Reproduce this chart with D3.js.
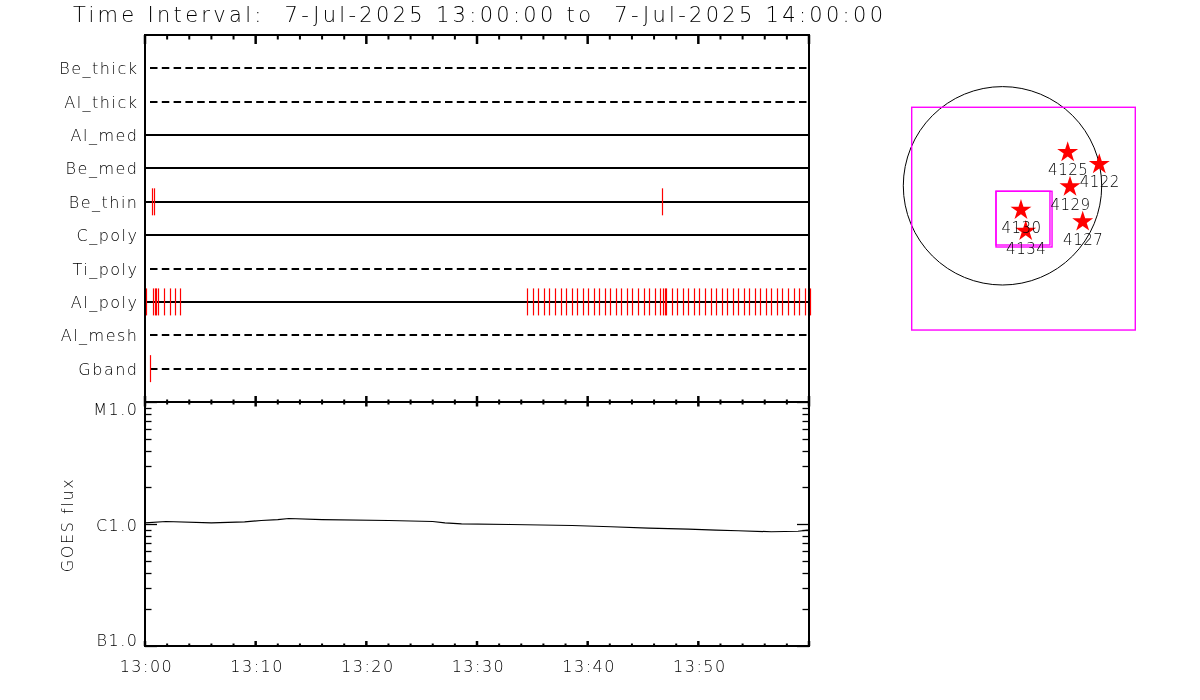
<!DOCTYPE html>
<html>
<head>
<meta charset="utf-8">
<script src="https://cdn.jsdelivr.net/npm/d3@7"></script>
<style>
  body { margin: 0; background: #fff; }
  svg { display: block; will-change: transform; }
  text { font-family: "DejaVu Sans", "Liberation Sans", sans-serif; font-weight: 200; fill: #000; }
</style>
</head>
<body>
<div id="chart"></div>
<script>
// filter rows, top to bottom
var rowNames = ["Be_thick", "Al_thick", "Al_med", "Be_med", "Be_thin", "C_poly", "Ti_poly", "Al_poly", "Al_mesh", "Gband"];
var dashedRows = ["Be_thick", "Al_thick", "Ti_poly", "Al_mesh", "Gband"];

// exposure times, minutes after 13:00
var beThinTimes = [0.66, 0.84, 46.72];
var gbandTimes = [0.48];
var alPolyTimes = [0.12, 0.75, 0.9, 1.02, 1.2, 1.69, 2.23, 2.74, 3.19,
    34.55, 35.05, 35.55, 36.05, 36.55, 37.05, 37.55, 38.05, 38.55, 39.05, 39.55,
    40.05, 40.55, 41.05, 41.55, 42.05, 42.55, 43.05, 43.55, 44.05, 44.55, 45.05,
    45.55, 46.05, 46.55, 46.8, 46.95, 47.1, 47.6, 48.1, 48.6, 49.1, 49.6, 50.1,
    50.6, 51.1, 51.6, 52.1, 52.6, 53.1, 53.6, 54.1, 54.6, 55.1, 55.6, 56.1, 56.6,
    57.1, 57.6, 58.1, 58.6, 59.1, 59.6, 60.05];

// GOES flux (W/m2)
var goesMinutes = [0, 1.9, 6.0, 9.0, 10.5, 12.0, 13.0, 16.0, 22.0, 26.0, 27.1, 28.6, 33.0, 38.6, 42.1, 45.5, 49.1, 51.6, 53.6, 56.6, 59.0, 59.9];
var goesFlux = [1.023e-6, 1.048e-6, 1.023e-6, 1.04e-6, 1.068e-6, 1.088e-6, 1.109e-6, 1.088e-6, 1.068e-6, 1.048e-6, 1.023e-6, 1.004e-6,
    0.991e-6, 0.972e-6, 0.949e-6, 0.924e-6, 0.907e-6, 0.89e-6, 0.88e-6, 0.864e-6, 0.872e-6, 0.89e-6];
var goesTickValues = [1e-7, 1e-6, 1e-5];
var goesTickLabels = ["B1.0", "C1.0", "M1.0"];

// active regions, arcsec from disk centre
var arNumbers = ["4125", "4122", "4129", "4130", "4134", "4127"];
var arX = [621, 922, 643, 176, 221, 764];
var arY = [319, 205, -9, -231, -431, -342];
var solarRadius = 945;
// pointing boxes [x0, x1, y0, y1] arcsec
var fovBoxes = [[-865, 1265, -1374, 748], [-62, 452, -564, -52], [-62, 472, -583, -52]];

var t0 = new Date(Date.UTC(2025, 6, 7, 13, 0, 0));
var t1 = new Date(Date.UTC(2025, 6, 7, 14, 0, 0));
function atMin(m) { return new Date(t0.getTime() + m * 60000); }

var width = 1200, height = 700;
var plotLeft = 145, plotRight = 809, plotTop = 35, plotMid = 402, plotBottom = 646;

var svg = d3.select("#chart").append("svg")
    .attr("width", width)
    .attr("height", height);

svg.append("rect")
    .attr("width", width)
    .attr("height", height)
    .attr("fill", "#fff");

svg.append("text")
    .attr("x", 73)
    .attr("y", 22)
    .attr("font-size", 21)
    .attr("textLength", 810)
    .attr("lengthAdjust", "spacing")
    .style("white-space", "pre")
    .text("Time Interval:  7-Jul-2025 13:00:00 to  7-Jul-2025 14:00:00");

var x = d3.scaleUtc().domain([t0, t1]).range([plotLeft, plotRight]);
var yRow = d3.scalePoint().domain(rowNames).range([plotTop, plotMid]).padding(1);
var y = d3.scaleLog().domain([1e-7, 1e-5]).range([plotBottom, plotMid]);

var majorTicks = x.ticks(d3.utcMinute.every(10));
var minorTicks = x.ticks(d3.utcMinute.every(2)).filter(function (d) {
    return d.getUTCMinutes() % 10 !== 0;
});

// ---- filter panel ----
var rows = svg.append("g");
rows.selectAll("line.row")
    .data(rowNames)
    .enter()
    .append("line")
    .attr("class", "row")
    .attr("x1", plotLeft)
    .attr("x2", plotRight)
    .attr("y1", function (d) { return Math.round(yRow(d)); })
    .attr("y2", function (d) { return Math.round(yRow(d)); })
    .attr("stroke", "#000")
    .attr("stroke-width", 2)
    .attr("stroke-dasharray", function (d) {
        return dashedRows.indexOf(d) >= 0 ? "7.5,4.3" : null;
    })
    .attr("stroke-dashoffset", -5);

rows.selectAll("text.rowlabel")
    .data(rowNames)
    .enter()
    .append("text")
    .attr("class", "rowlabel")
    .attr("x", 138.5)
    .attr("y", function (d) { return yRow(d) + 6; })
    .attr("text-anchor", "end")
    .attr("font-size", 16)
    .attr("letter-spacing", 1.5)
    .text(function (d) { return d; });

var exposures = [];
beThinTimes.forEach(function (m) { exposures.push({ row: "Be_thin", t: m }); });
alPolyTimes.forEach(function (m) { exposures.push({ row: "Al_poly", t: m }); });
gbandTimes.forEach(function (m) { exposures.push({ row: "Gband", t: m }); });

rows.selectAll("line.exp")
    .data(exposures)
    .enter()
    .append("line")
    .attr("class", "exp")
    .attr("x1", function (d) { return Math.round(x(atMin(d.t))) + 0.5; })
    .attr("x2", function (d) { return Math.round(x(atMin(d.t))) + 0.5; })
    .attr("y1", function (d) { return yRow(d.row) - 13.5; })
    .attr("y2", function (d) { return yRow(d.row) + 13.5; })
    .attr("stroke", "#ff0000")
    .attr("stroke-width", 1.2);

// ---- GOES panel ----
var line = d3.line()
    .x(function (d, i) { return x(atMin(goesMinutes[i])); })
    .y(function (d) { return y(d); });

svg.append("path")
    .datum(goesFlux)
    .attr("d", line)
    .attr("fill", "none")
    .attr("stroke", "#000")
    .attr("stroke-width", 1.2);

var logTicks = y.ticks();
function isMajor(v) {
    return goesTickValues.some(function (t) { return Math.abs(v / t - 1) < 1e-6; });
}

var yt = svg.append("g");
yt.selectAll("line.yl")
    .data(logTicks)
    .enter()
    .append("line")
    .attr("x1", plotLeft)
    .attr("x2", function (d) { return plotLeft + (isMajor(d) ? 12 : 6.5); })
    .attr("y1", function (d) { return Math.round(y(d)) + 0.5; })
    .attr("y2", function (d) { return Math.round(y(d)) + 0.5; })
    .attr("stroke", "#000")
    .attr("stroke-width", 1.3);
yt.selectAll("line.yr")
    .data(logTicks)
    .enter()
    .append("line")
    .attr("x1", plotRight)
    .attr("x2", function (d) { return plotRight - (isMajor(d) ? 12 : 6.5); })
    .attr("y1", function (d) { return Math.round(y(d)) + 0.5; })
    .attr("y2", function (d) { return Math.round(y(d)) + 0.5; })
    .attr("stroke", "#000")
    .attr("stroke-width", 1.3);

yt.selectAll("text")
    .data(goesTickValues)
    .enter()
    .append("text")
    .attr("x", 138.5)
    .attr("y", function (d, i) { return i === 0 ? y(d) : (i === 2 ? y(d) + 13 : y(d) + 6.5); })
    .attr("text-anchor", "end")
    .attr("font-size", 16)
    .attr("letter-spacing", 1.5)
    .text(function (d, i) { return goesTickLabels[i]; });

svg.append("text")
    .attr("transform", "translate(73,525) rotate(-90)")
    .attr("text-anchor", "middle")
    .attr("font-size", 16)
    .attr("letter-spacing", 1.6)
    .text("GOES flux");

// time ticks
function timeTicks(yPos, dir, majorLen, minorLen) {
    var g = svg.append("g");
    g.selectAll("line.mn")
        .data(minorTicks)
        .enter()
        .append("line")
        .attr("x1", function (d) { return x(d); })
        .attr("x2", function (d) { return x(d); })
        .attr("y1", yPos)
        .attr("y2", yPos + dir * minorLen)
        .attr("stroke", "#000")
        .attr("stroke-width", 2);
    g.selectAll("line.mj")
        .data(majorTicks)
        .enter()
        .append("line")
        .attr("x1", function (d) { return x(d); })
        .attr("x2", function (d) { return x(d); })
        .attr("y1", yPos)
        .attr("y2", yPos + dir * majorLen)
        .attr("stroke", "#000")
        .attr("stroke-width", 2.5);
}
timeTicks(plotTop, 1, 9, 4.5);
timeTicks(plotMid, -1, 6, 2.5);
timeTicks(plotMid, 1, 4.5, 2.5);
timeTicks(plotBottom, -1, 5, 2.5);

svg.append("g")
    .selectAll("text")
    .data(majorTicks.filter(function (d) { return d < t1; }))
    .enter()
    .append("text")
    .attr("x", function (d) { return x(d) + 1.5; })
    .attr("y", 672)
    .attr("text-anchor", "middle")
    .attr("font-size", 16)
    .attr("letter-spacing", 1.5)
    .text(d3.utcFormat("%H:%M"));

// frames
svg.append("rect")
    .attr("x", plotLeft).attr("y", plotTop)
    .attr("width", plotRight - plotLeft).attr("height", plotMid - plotTop)
    .attr("fill", "none").attr("stroke", "#000").attr("stroke-width", 2);
svg.append("rect")
    .attr("x", plotLeft).attr("y", plotMid)
    .attr("width", plotRight - plotLeft).attr("height", plotBottom - plotMid)
    .attr("fill", "none").attr("stroke", "#000").attr("stroke-width", 2);

// ---- pointing map ----
var cx = 1002.5, cy = 185.8, rPx = 99.2;
var sx = d3.scaleLinear().domain([-solarRadius, solarRadius]).range([cx - rPx, cx + rPx]);
var sy = d3.scaleLinear().domain([-solarRadius, solarRadius]).range([cy + rPx, cy - rPx]);

var map = svg.append("g");
map.append("circle")
    .attr("cx", sx(0))
    .attr("cy", sy(0))
    .attr("r", sx(solarRadius) - sx(0))
    .attr("fill", "none")
    .attr("stroke", "#000")
    .attr("stroke-width", 1);

map.selectAll("rect")
    .data(fovBoxes)
    .enter()
    .append("rect")
    .attr("x", function (d) { return sx(d[0]); })
    .attr("y", function (d) { return sy(d[3]); })
    .attr("width", function (d) { return sx(d[1]) - sx(d[0]); })
    .attr("height", function (d) { return sy(d[2]) - sy(d[3]); })
    .attr("fill", "none")
    .attr("stroke", "#ff00ff")
    .attr("stroke-width", 1.4);

var star = d3.symbol().type(d3.symbolStar).size(136);
map.selectAll("path.ar")
    .data(arNumbers)
    .enter()
    .append("path")
    .attr("class", "ar")
    .attr("d", star)
    .attr("transform", function (d, i) {
        return "translate(" + sx(arX[i]) + "," + sy(arY[i]) + ")";
    })
    .attr("fill", "#ff0000");

map.selectAll("text.ar")
    .data(arNumbers)
    .enter()
    .append("text")
    .attr("class", "ar")
    .attr("x", function (d, i) { return sx(arX[i]) + 0.5; })
    .attr("y", function (d, i) { return sy(arY[i]) + 23; })
    .attr("text-anchor", "middle")
    .attr("font-size", 15)
    .attr("letter-spacing", 0.5)
    .text(function (d) { return d; });
</script>
</body>
</html>
